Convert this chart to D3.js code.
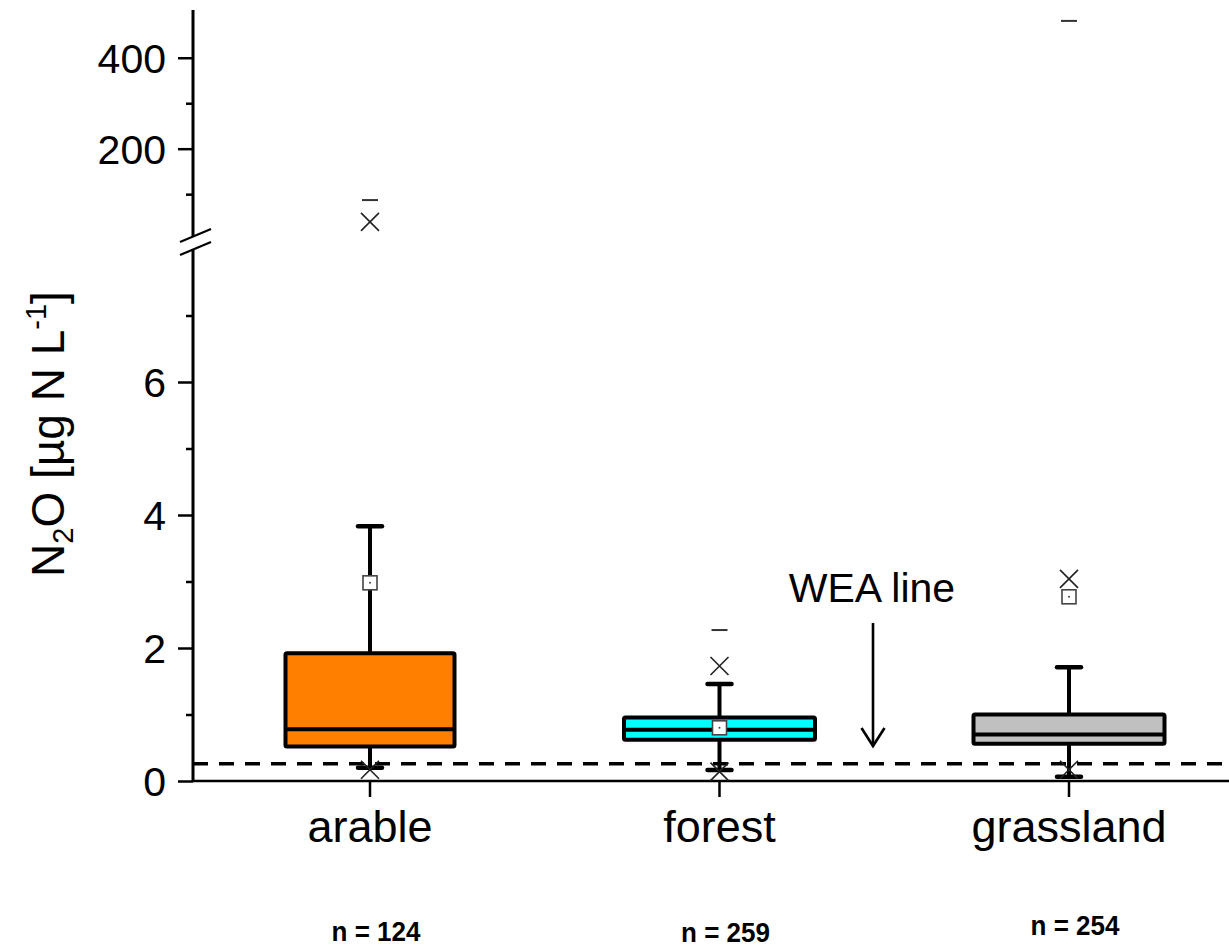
<!DOCTYPE html>
<html>
<head>
<meta charset="utf-8">
<script src="https://cdn.jsdelivr.net/npm/d3@7/dist/d3.min.js"></script>
<style>
  body { margin: 0; background: #fff; }
  svg { display: block; font-family: Arial, "Liberation Sans", sans-serif; }
</style>
</head>
<body>
<div id="graph"></div>
<script>
// box plot summary values (µg N per L)
const categories = ["arable", "forest", "grassland"];
const counts = [124, 259, 254];
const q1 = [0.52, 0.62, 0.56];
const medians = [0.78, 0.77, 0.70];
const q3 = [1.92, 0.955, 1.0];
const whiskerLow = [0.20, 0.165, 0.065];
const whiskerHigh = [3.83, 1.46, 1.71];
const means = [2.98, 0.80, 2.77];
const pctLow = [0.17, 0.14, 0.17];   // lower "x" markers
const pctHigh = [39, 1.73, 3.04];    // upper "x" markers
const maxima = [87, 2.27, 481];
const weaLine = 0.26;

const lowerTicks = [0, 2, 4, 6];
const lowerMinor = [1, 3, 5, 7];
const upperTicks = [200, 400];
const upperMinor = [100, 300];

const fills = ["#FF8000", "#00FFFF", "#C0C0C0"];
const boxWidths = [169, 191, 191];

const width = 1229, height = 947;
const axisX = 193, baseY = 781;

const svg = d3.select("#graph").append("svg")
  .attr("width", width)
  .attr("height", height);

// two y segments because of the axis break
const yLow = d3.scaleLinear().domain([0, 8]).range([baseY, 249]);
const yHigh = d3.scaleLinear().domain([8, 505]).range([236, 10]);
const y = v => v <= 8 ? yLow(v) : yHigh(v);

const x = d3.scalePoint().domain(categories).range([370, 1069]);

// WEA dashed line
svg.append("line")
  .attr("x1", axisX).attr("x2", width)
  .attr("y1", y(weaLine)).attr("y2", y(weaLine))
  .attr("stroke", "#000").attr("stroke-width", 3.5)
  .attr("stroke-dasharray", "15,11");

// x axis
svg.append("line")
  .attr("x1", axisX).attr("x2", width)
  .attr("y1", baseY).attr("y2", baseY)
  .attr("stroke", "#000").attr("stroke-width", 2.5);

svg.selectAll(".xtick")
  .data(categories)
  .enter().append("line")
  .attr("x1", d => x(d)).attr("x2", d => x(d))
  .attr("y1", baseY).attr("y2", baseY + 16)
  .attr("stroke", "#000").attr("stroke-width", 2.5);

svg.selectAll(".xlabel")
  .data(categories)
  .enter().append("text")
  .attr("x", d => x(d))
  .attr("y", 842)
  .attr("text-anchor", "middle")
  .attr("font-size", 45)
  .text(d => d);

// n labels (slightly condensed like the original)
const nBase = [941, 942, 935];
svg.selectAll(".nlabel")
  .data(categories)
  .enter().append("text")
  .attr("transform", (d, i) => "translate(" + (x(d) + 6) + "," + nBase[i] + ") scale(0.93,1)")
  .attr("text-anchor", "middle")
  .attr("font-size", 28)
  .attr("font-weight", "bold")
  .text((d, i) => "n = " + counts[i]);

// y axis, lower segment
const yAxisLow = svg.append("g").attr("transform", "translate(" + axisX + ",0)");
yAxisLow.append("g")
  .call(d3.axisLeft(yLow).tickValues(lowerTicks).tickSize(15).tickPadding(12).tickSizeOuter(0))
  .call(g => g.select(".domain").remove());
yAxisLow.append("g")
  .call(d3.axisLeft(yLow).tickValues(lowerMinor).tickSize(7).tickFormat("").tickSizeOuter(0))
  .call(g => g.select(".domain").remove());

// y axis, upper segment
const yAxisHigh = svg.append("g").attr("transform", "translate(" + axisX + ",0)");
yAxisHigh.append("g")
  .call(d3.axisLeft(yHigh).tickValues(upperTicks).tickSize(15).tickPadding(12).tickSizeOuter(0))
  .call(g => g.select(".domain").remove());
yAxisHigh.append("g")
  .call(d3.axisLeft(yHigh).tickValues(upperMinor).tickSize(7).tickFormat("").tickSizeOuter(0))
  .call(g => g.select(".domain").remove());

svg.selectAll(".tick line").attr("stroke", "#000").attr("stroke-width", 2.5);
svg.selectAll(".tick text").attr("font-size", 41).attr("fill", "#000")
  .attr("font-family", "Arial, 'Liberation Sans', sans-serif")
  .attr("dy", "0.36em");

svg.append("line")
  .attr("x1", axisX).attr("x2", axisX)
  .attr("y1", yLow.range()[1]).attr("y2", baseY + 1)
  .attr("stroke", "#000").attr("stroke-width", 3);
svg.append("line")
  .attr("x1", axisX).attr("x2", axisX)
  .attr("y1", yHigh.range()[1]).attr("y2", yHigh.range()[0])
  .attr("stroke", "#000").attr("stroke-width", 3);

// break marks
[0, 13].forEach(off => {
  svg.append("line")
    .attr("x1", axisX - 13).attr("y1", 242 + off)
    .attr("x2", axisX + 18).attr("y2", 229 + off)
    .attr("stroke", "#000").attr("stroke-width", 2.2);
});

// y label
const ylab = svg.append("text")
  .attr("transform", "translate(64,434) rotate(-90)")
  .attr("text-anchor", "middle")
  .attr("font-size", 46);
ylab.append("tspan").text("N");
ylab.append("tspan").attr("font-size", 29).attr("dy", 9).text("2");
ylab.append("tspan").attr("dy", -9).text("O [µg N L");
ylab.append("tspan").attr("font-size", 29).attr("dy", -18).text("-1");
ylab.append("tspan").attr("dy", 18).text("]");

// boxes
const boxes = svg.selectAll(".box")
  .data(categories)
  .enter().append("g");

// whiskers
boxes.append("line")
  .attr("x1", d => x(d)).attr("x2", d => x(d))
  .attr("y1", (d, i) => y(whiskerHigh[i])).attr("y2", (d, i) => y(q3[i]))
  .attr("stroke", "#000").attr("stroke-width", 4);
boxes.append("line")
  .attr("x1", d => x(d)).attr("x2", d => x(d))
  .attr("y1", (d, i) => y(q1[i])).attr("y2", (d, i) => y(whiskerLow[i]))
  .attr("stroke", "#000").attr("stroke-width", 4);
[whiskerHigh, whiskerLow].forEach(arr => {
  boxes.append("line")
    .attr("x1", d => x(d) - 12).attr("x2", d => x(d) + 12)
    .attr("y1", (d, i) => y(arr[i])).attr("y2", (d, i) => y(arr[i]))
    .attr("stroke", "#000").attr("stroke-width", 4.5)
    .attr("stroke-linecap", "round");
});

boxes.append("rect")
  .attr("x", (d, i) => x(d) - boxWidths[i] / 2)
  .attr("width", (d, i) => boxWidths[i])
  .attr("y", (d, i) => y(q3[i]))
  .attr("height", (d, i) => y(q1[i]) - y(q3[i]))
  .attr("fill", (d, i) => fills[i])
  .attr("stroke", "#000").attr("stroke-width", 4)
  .attr("rx", 1.5);

boxes.append("line")
  .attr("x1", (d, i) => x(d) - boxWidths[i] / 2).attr("x2", (d, i) => x(d) + boxWidths[i] / 2)
  .attr("y1", (d, i) => y(medians[i])).attr("y2", (d, i) => y(medians[i]))
  .attr("stroke", "#000").attr("stroke-width", 4);

// x markers
const cross = (g, getV) => {
  g.append("path")
    .attr("d", (d, i) => {
      const cx = x(d), cy = y(getV(i)), s = 9;
      return `M${cx - s},${cy - s}L${cx + s},${cy + s}M${cx - s},${cy + s}L${cx + s},${cy - s}`;
    })
    .attr("stroke", "#222").attr("stroke-width", 1.6).attr("fill", "none");
};
cross(boxes, i => pctHigh[i]);
cross(boxes, i => pctLow[i]);

// max dashes
boxes.append("line")
  .attr("x1", d => x(d) - 8).attr("x2", d => x(d) + 8)
  .attr("y1", (d, i) => y(maxima[i])).attr("y2", (d, i) => y(maxima[i]))
  .attr("stroke", "#333").attr("stroke-width", 2);

// means
boxes.append("rect")
  .attr("x", d => x(d) - 7).attr("width", 14)
  .attr("y", (d, i) => y(means[i]) - 7).attr("height", 14)
  .attr("fill", "#fff").attr("stroke", "#444").attr("stroke-width", 1.6);
boxes.append("circle")
  .attr("cx", d => x(d)).attr("cy", (d, i) => y(means[i]))
  .attr("r", 1).attr("fill", "#444");

// WEA annotation
svg.append("text")
  .attr("x", 872).attr("y", 602)
  .attr("text-anchor", "middle")
  .attr("font-size", 41)
  .text("WEA line");
svg.append("line")
  .attr("x1", 873).attr("x2", 873)
  .attr("y1", 623).attr("y2", 745)
  .attr("stroke", "#000").attr("stroke-width", 2.6);
svg.append("path")
  .attr("d", "M861.5,728L873,746L884.5,728")
  .attr("fill", "none").attr("stroke", "#000").attr("stroke-width", 2.6);
</script>
</body>
</html>
